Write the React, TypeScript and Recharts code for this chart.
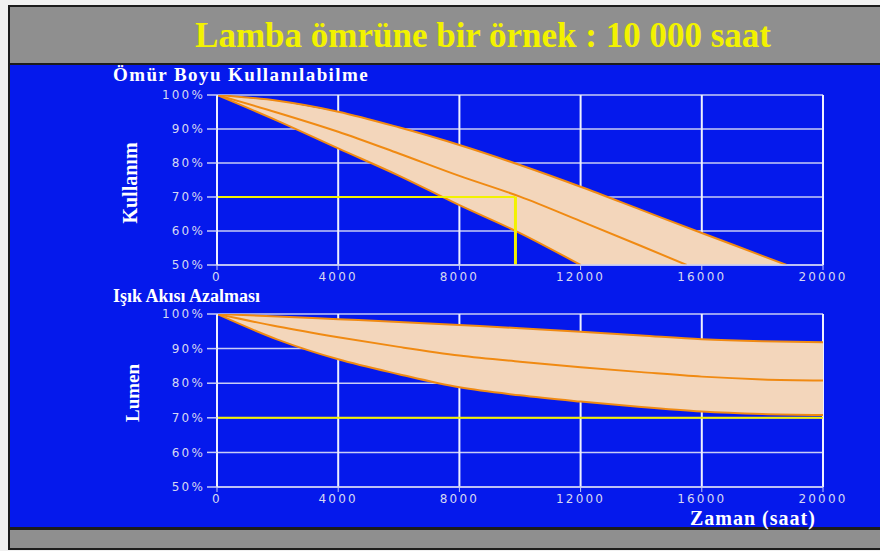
import React from 'react';
import {
  ComposedChart, Area, Line, XAxis, YAxis, CartesianGrid, ReferenceLine,
} from 'recharts';

// hours axis and percent axis
const HOUR_TICKS = [0, 4000, 8000, 12000, 16000, 20000];
const PCT_TICKS = [50, 60, 70, 80, 90, 100];
const PCT_FLOOR = 50;

// lifetime usability (Kullanım, %)
const useUpperHours = [0, 2000, 4000, 6000, 8000, 10000, 12000, 14000, 16000, 18000, 18800];
const useUpper = [100, 98.3, 95.1, 90.5, 85.3, 79.4, 73, 66.2, 59.4, 52.7, 50];
const useMidHours = [0, 2000, 4000, 6000, 8000, 10000, 12000, 14000, 15500];
const useMid = [100, 94.8, 89.2, 82.8, 76.2, 70.1, 62.9, 55.6, 50];
const useLowHours = [0, 2000, 4000, 6000, 8000, 10000, 12000];
const useLow = [100, 92.4, 84.3, 76.3, 67.6, 59.4, 50];
const RATED_HOURS = 9850;
const RATED_PCT = 70;

// lumen depreciation (Lumen, %)
const lumenHours = [0, 2000, 4000, 6000, 8000, 10000, 12000, 14000, 16000, 18000, 20000];
const lumenUpper = [100, 99.3, 98.5, 97.7, 96.8, 95.9, 94.9, 93.8, 92.7, 92.1, 91.8];
const lumenMid = [100, 96.4, 93.3, 90.5, 88, 86.2, 84.6, 83.2, 81.9, 81.1, 80.8];
const lumenLow = [100, 92.6, 86.9, 82.6, 78.8, 76.5, 74.7, 73.1, 71.8, 71.1, 70.8];
const LUMEN_LIMIT = 70;

const BLUE = '#0519ec';
const FILL = '#f3d6bb';
const ORANGE = '#f08a12';
const YELLOW = '#f2f200';
const GRID = '#c9cdf6';
const TICK = '#d6d8f2';
const SERIF = '"Liberation Serif", "Times New Roman", serif';

const toRows = (hours: number[], vals: number[]) => hours.map((h, i) => ({ h, v: vals[i] }));

// band between best and worst case; past the worst-case end it runs down to the axis floor
const useBand = useUpperHours.map((h, i) => {
  const j = useLowHours.indexOf(h);
  return { h, range: [j >= 0 ? useLow[j] : PCT_FLOOR, useUpper[i]] };
});
const lumenBand = lumenHours.map((h, i) => ({ h, range: [lumenLow[i], lumenUpper[i]] }));

const tickStyle = { fill: TICK, fontSize: 12, fontFamily: '"DejaVu Sans", sans-serif', letterSpacing: 2.2 };

const Panel: React.FC<{
  height: number;
  top: number;
  bottom: number;
  children: React.ReactNode;
}> = ({ height, top, bottom, children }) => (
  <ComposedChart width={880} height={height} margin={{ top, right: 57, bottom: 0, left: 157 }}>
    <CartesianGrid horizontal vertical={false} stroke={GRID} strokeWidth={1.5} />
    <CartesianGrid horizontal={false} vertical stroke="#eef0ff" strokeWidth={2} />
    <XAxis
      dataKey="h" type="number" domain={[0, 20000]} ticks={HOUR_TICKS} allowDataOverflow
      height={bottom} tick={tickStyle} tickSize={5} tickMargin={2}
      axisLine={{ stroke: GRID, strokeWidth: 1.5 }} tickLine={{ stroke: GRID }}
    />
    <YAxis
      type="number" domain={[50, 100]} ticks={PCT_TICKS} allowDataOverflow width={60}
      tick={tickStyle} tickFormatter={(v: number) => `${v}%`} tickSize={10} tickMargin={2}
      axisLine={{ stroke: '#eef0ff', strokeWidth: 2 }} tickLine={{ stroke: GRID, strokeWidth: 1.5 }}
    />
    {children}
  </ComposedChart>
);

const label: React.CSSProperties = {
  position: 'absolute', color: '#fff', fontFamily: SERIF, fontWeight: 'bold', whiteSpace: 'nowrap',
};

export default function App() {
  return (
    <div style={{ position: 'absolute', left: 0, top: 0, width: 880, height: 551, background: '#f1f1f1', overflow: 'hidden' }}>
      {/* frame */}
      <div style={{ position: 'absolute', left: 8, top: 5, width: 880, height: 545, background: '#1c1c1c' }} />
      <div style={{ position: 'absolute', left: 10, top: 7, width: 880, height: 56, background: '#8f8f8f' }} />
      <div style={{ position: 'absolute', left: 10, top: 65, width: 880, height: 462, background: BLUE }} />
      <div style={{ position: 'absolute', left: 10, top: 530, width: 880, height: 18, background: '#8f8f8f' }} />

      <div style={{ ...label, left: 0, width: 966, top: 15, textAlign: 'center', color: YELLOW, fontSize: 35, lineHeight: '42px' }}>
        Lamba ömrüne bir örnek : 10 000 saat
      </div>

      <div style={{ ...label, left: 113, top: 63, fontSize: 19, letterSpacing: 1.4, lineHeight: '24px' }}>Ömür Boyu Kullanılabilme</div>
      <div style={{ ...label, left: 130, top: 183, fontSize: 20, transform: 'translate(-50%, -50%) rotate(-90deg)' }}>Kullanım</div>

      <div style={{ ...label, left: 113, top: 284, fontSize: 18, lineHeight: '24px' }}>Işık Akısı Azalması</div>
      <div style={{ ...label, left: 133, top: 393, fontSize: 19, transform: 'translate(-50%, -50%) rotate(-90deg)' }}>Lumen</div>

      <div style={{ ...label, left: 690, top: 505, fontSize: 20, letterSpacing: 1, lineHeight: '26px' }}>Zaman (saat)</div>

      <div style={{ position: 'absolute', left: 0, top: 80 }}>
        <Panel height={205} top={15} bottom={20}>
          <Area data={useBand} dataKey="range" type="linear" fill={FILL} fillOpacity={1} stroke="none" isAnimationActive={false} />
          <Line data={toRows(useUpperHours, useUpper)} dataKey="v" type="monotone" stroke={ORANGE} strokeWidth={2} dot={false} isAnimationActive={false} />
          <Line data={toRows(useMidHours, useMid)} dataKey="v" type="monotone" stroke={ORANGE} strokeWidth={2} dot={false} isAnimationActive={false} />
          <Line data={toRows(useLowHours, useLow)} dataKey="v" type="monotone" stroke={ORANGE} strokeWidth={2} dot={false} isAnimationActive={false} />
          <ReferenceLine segment={[{ x: 0, y: RATED_PCT }, { x: RATED_HOURS, y: RATED_PCT }]} stroke={YELLOW} strokeWidth={2} />
          <ReferenceLine segment={[{ x: RATED_HOURS, y: RATED_PCT }, { x: RATED_HOURS, y: PCT_FLOOR }]} stroke={YELLOW} strokeWidth={3} />
        </Panel>
      </div>

      <div style={{ position: 'absolute', left: 0, top: 300 }}>
        <Panel height={210} top={14} bottom={23}>
          <Area data={lumenBand} dataKey="range" type="monotone" fill={FILL} fillOpacity={1} stroke="none" isAnimationActive={false} />
          <Line data={toRows(lumenHours, lumenUpper)} dataKey="v" type="monotone" stroke={ORANGE} strokeWidth={2} dot={false} isAnimationActive={false} />
          <Line data={toRows(lumenHours, lumenMid)} dataKey="v" type="monotone" stroke={ORANGE} strokeWidth={2} dot={false} isAnimationActive={false} />
          <Line data={toRows(lumenHours, lumenLow)} dataKey="v" type="monotone" stroke={ORANGE} strokeWidth={2} dot={false} isAnimationActive={false} />
          <ReferenceLine y={LUMEN_LIMIT} stroke={YELLOW} strokeWidth={2} />
        </Panel>
      </div>
    </div>
  );
}
